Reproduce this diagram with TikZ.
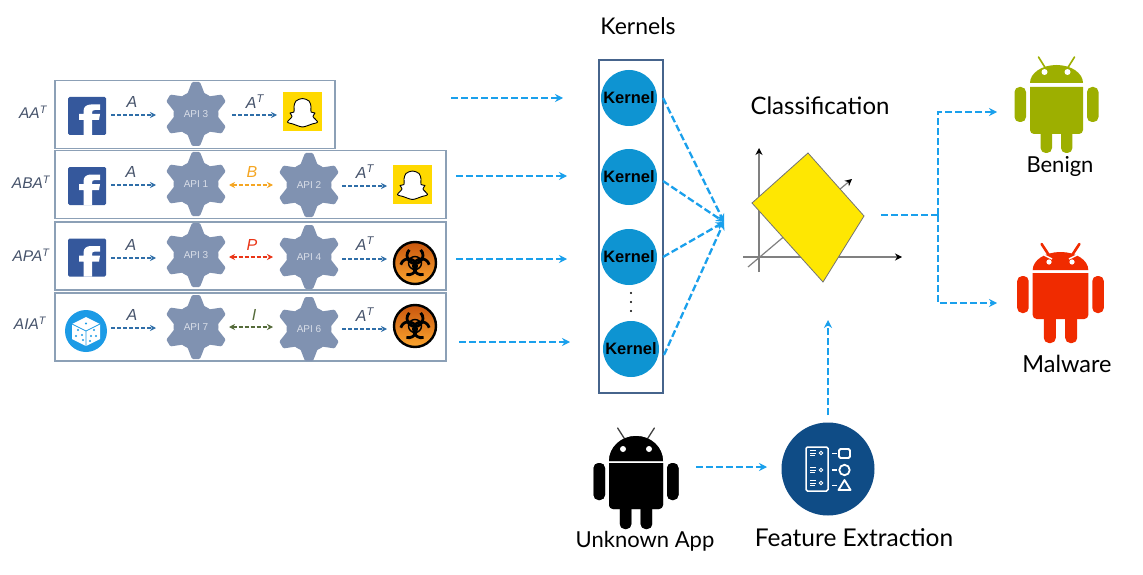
\documentclass[tikz,border=0pt]{standalone}
\usepackage{fontspec}
\setmainfont{Liberation Sans}
\newfontfamily\headfont{Lato}
\usetikzlibrary{arrows.meta}
\definecolor{flowblue}{HTML}{1AA0EC}
\definecolor{smallblue}{HTML}{2F6EA8}
\definecolor{gearcol}{HTML}{8092B1}
\definecolor{boxcol}{HTML}{8CA0B6}
\definecolor{kboxcol}{HTML}{46648C}
\definecolor{slatetext}{HTML}{46536B}
\definecolor{kernelfill}{HTML}{0E94D2}
\definecolor{fbblue}{HTML}{35589C}
\definecolor{snapyellow}{HTML}{FFD900}
\definecolor{bcol}{HTML}{F5A623}
\definecolor{pcol}{HTML}{EA3517}
\definecolor{icol}{HTML}{556B3A}
\definecolor{featblue}{HTML}{0F4C86}
\definecolor{dicecol}{HTML}{1C9BE6}
\definecolor{biotop}{HTML}{C9560E}
\definecolor{biobot}{HTML}{FBA52F}
\tikzset{
  flow/.style={draw=flowblue,line width=2.3pt,dash pattern=on 7pt off 3pt,-{Stealth[length=8pt,width=8pt]}},
  flowplain/.style={draw=flowblue,line width=2.3pt,dash pattern=on 7pt off 3pt},
  tinyflow/.style={draw=#1,line width=1.6pt,dash pattern=on 4pt off 2pt,-{Stealth[length=6pt,width=6pt]}},
  tinyboth/.style={draw=#1,line width=1.6pt,dash pattern=on 4pt off 2pt,{Stealth[length=6pt,width=6pt]}-{Stealth[length=6pt,width=6pt]}},
  rowbox/.style={draw=boxcol,line width=1.5pt,fill=white,minimum width=#1,inner sep=0pt,minimum height=68pt},
  gearbody/.style={circle,fill=gearcol,minimum size=45pt,inner sep=0pt,text=white!70!gearcol,font=\fontsize{10}{11}\selectfont},
  kernelnode/.style={circle,fill=kernelfill,minimum size=56pt,inner sep=0pt,text=black,font=\bfseries\fontsize{16.5}{18}\selectfont},
  rellabel/.style={font=\itshape\fontsize{16}{18}\selectfont,text=#1},
  pathlabel/.style={font=\itshape\fontsize{15.5}{18}\selectfont,text=slatetext},
  headlabel/.style={font=\headfont\fontsize{#1}{26}\selectfont,text=black},
  iconline/.style={draw=white,line width=1.8pt},
}
% gear: name, x, y, label
\newcommand{\gearnode}[4]{%
  \begin{scope}[shift={(#2,#3)}]
    \foreach \a in {90,150,210,270,330,30}{
      \fill[gearcol,rounded corners=1.2pt,rotate=\a] (18,-9.5) -- (32,-4) -- (32,4) -- (18,9.5) -- cycle;
    }
  \end{scope}
  \node[gearbody] (#1) at (#2,#3) {#4};
}
% facebook tile: name, left, top, size
\newcommand{\fbtile}[4]{%
  \node[minimum size=#4pt,inner sep=0pt,fill=fbblue,rounded corners=1.5pt] (#1) at ({#2+#4/2},{#3+#4/2}) {};
  \begin{scope}[shift={(#2,#3)}]
    \fill[white] (15.5,38) -- (15.5,23) -- (11,23) -- (11,17) -- (15.5,17) -- (15.5,14)
      .. controls (15.5,9.5) and (19,7.5) .. (23,7.5) -- (32,7.5) -- (32,13) -- (27,13)
      .. controls (24.5,13) and (24,14) .. (24,16) -- (24,17) -- (32,17) -- (31,23) -- (24,23) -- (24,38) -- cycle;
  \end{scope}
}
% snapchat tile: name, left, top
\newcommand{\snaptile}[3]{%
  \node[minimum size=39pt,inner sep=0pt,fill=snapyellow] (#1) at ({#2+19.5},{#3+19.5}) {};
  \begin{scope}[shift={(#2,#3)}]
    \draw[black,fill=white,line width=.9pt,line join=round] plot[smooth cycle,tension=.55] coordinates
      {(19.5,6) (26,8.5) (28,14) (28,19.5) (32,20.5) (30,24) (34.5,29.5) (29,31.5) (25,33) (19.5,34.5)
       (14,33) (10,31.5) (4.5,29.5) (9,24) (7,20.5) (11,19.5) (11,14) (13,8.5)};
  \end{scope}
}
% biohazard: name, x, y
\newcommand{\biohaz}[3]{%
  \node[circle,draw=black,line width=2.4pt,minimum size=42pt,inner sep=0pt,top color=biotop,bottom color=biobot] (#1) at (#2,#3) {};
  \begin{scope}[shift={(#2,#3)},y=1pt]
    \foreach \a in {90,210,330}{
      \draw[black,line width=2.8pt] ([shift={(\a:7.5)}]{\a+45}:8) arc[start angle=\a+45,end angle=\a+315,radius=8pt];
    }
    \draw[black,line width=1.4pt] (0,0) circle[radius=6.5pt];
  \end{scope}
}
% android: cx, colour, headtop, headbottom, bodytop, bodybottom, legbottom, armtop, armbottom
\newcommand{\droid}[9]{%
  \fill[#2] ({#1-\dhalf},#4) arc[start angle=180,end angle=0,x radius=\dhalf pt,y radius={(#4-#3)*1pt}] -- cycle;
  \draw[#2,line width=\dant pt,line cap=round] ({#1-.42*\dhalf},{#3+3}) -- ({#1-.68*\dhalf},{#3-8});
  \draw[#2,line width=\dant pt,line cap=round] ({#1+.42*\dhalf},{#3+3}) -- ({#1+.68*\dhalf},{#3-8});
  \path[fill=#2] ({#1-\dhalf},#5) -- ({#1+\dhalf},#5) [rounded corners=4pt] -- ({#1+\dhalf},#6) -- ({#1-\dhalf},#6) [sharp corners] -- cycle;
  \fill[#2,rounded corners=5pt] ({#1-\dhalf*.6},{#6-6}) rectangle ({#1-\dhalf*.17},#7);
  \fill[#2,rounded corners=5pt] ({#1+\dhalf*.17},{#6-6}) rectangle ({#1+\dhalf*.6},#7);
  \fill[#2,rounded corners=5pt] ({#1-\dhalf-15.5},#8) rectangle ({#1-\dhalf-4},#9);
  \fill[#2,rounded corners=5pt] ({#1+\dhalf+4},#8) rectangle ({#1+\dhalf+15.5},#9);
}
% link between coordinates: name, x1, x2, y, style
\newcommand{\flowlink}[5]{%
  \coordinate (#1s) at (#2,#4);
  \coordinate (#1e) at (#3,#4);
  \draw[#5] (#1s) -- (#1e);
}
\begin{document}
\begin{tikzpicture}[x=1pt,y=-1pt]
\useasboundingbox (0,0) rectangle (1143,575);
\fill[white] (0,0) rectangle (1143,575);

% row boxes
\node[rowbox=280pt] (row1) at (195,114.5) {};
\node[rowbox=391pt] (row2) at (250.5,184.5) {};
\node[rowbox=391pt] (row3) at (250.5,256) {};
\node[rowbox=391pt] (row4) at (250.5,327) {};

% left labels
\node[pathlabel] (p1) at (33,112) {AA\textsuperscript{T}};
\node[pathlabel] (p2) at (31,182) {ABA\textsuperscript{T}};
\node[pathlabel] (p3) at (31,255) {APA\textsuperscript{T}};
\node[pathlabel] (p4) at (30,323) {AIA\textsuperscript{T}};

% gears
\gearnode{g1a}{196}{114}{API 3}
\gearnode{g2a}{196}{184}{API 1}
\gearnode{g2b}{309}{185}{API 2}
\gearnode{g3a}{196}{255}{API 3}
\gearnode{g3b}{309}{257}{API 4}
\gearnode{g4a}{196}{327}{API 7}
\gearnode{g4b}{309}{329}{API 6}

% tiles
\fbtile{fb1}{68}{97}{38}
\fbtile{fb2}{68}{167}{38}
\fbtile{fb3}{68}{238.5}{38}
\snaptile{sn1}{283}{92.5}
\snaptile{sn2}{393}{165}
\biohaz{bio3}{415}{263}
\biohaz{bio4}{415}{326}

% dice
\node[circle,fill=dicecol,minimum size=42pt,inner sep=0pt] (dice) at (86,331) {};
\begin{scope}[shift={(86,331)}]
  \fill[white,line join=round] (0,-14) -- (14,-7) -- (14,8) -- (0,15) -- (-14,8) -- (-14,-7) -- cycle;
  \draw[dicecol,line width=.8pt] (-14,-7) -- (0,0) -- (14,-7) (0,0) -- (0,15);
  \foreach \p in {(0,-7.5),(-8,-1),(-4,4),(-10,5),(-3,9),(8,-1),(5,5),(10,5),(4,10)}{
    \fill[dicecol] \p circle[radius=1.2pt];
  }
\end{scope}

% small labels
\node[rellabel=slatetext] (la1) at (132,102) {A};
\node[rellabel=slatetext] (lt1) at (255,102) {A\textsuperscript{T}};
\node[rellabel=slatetext] (la2) at (131,172) {A};
\node[rellabel=bcol] (lb) at (252,172) {B};
\node[rellabel=slatetext] (lt2) at (365,172) {A\textsuperscript{T}};
\node[rellabel=slatetext] (la3) at (131,245) {A};
\node[rellabel=pcol] (lp) at (252,245) {P};
\node[rellabel=slatetext] (lt3) at (365,244) {A\textsuperscript{T}};
\node[rellabel=slatetext] (la4) at (132,315) {A};
\node[rellabel=icol] (li) at (254,315) {I};
\node[rellabel=slatetext] (lt4) at (365,315) {A\textsuperscript{T}};

% small arrows
\flowlink{a1}{111}{156}{115}{tinyflow=smallblue}
\flowlink{a2}{232}{277}{115}{tinyflow=smallblue}
\flowlink{b1}{111}{156}{185}{tinyflow=smallblue}
\flowlink{b2}{229}{273}{185}{tinyboth=bcol}
\flowlink{b3}{342}{387}{186}{tinyflow=smallblue}
\flowlink{c1}{111}{156}{258}{tinyflow=smallblue}
\flowlink{c2}{229}{273}{257}{tinyboth=pcol}
\flowlink{c3}{342}{387}{259}{tinyflow=smallblue}
\flowlink{d1}{111}{156}{328}{tinyflow=smallblue}
\flowlink{d2}{229}{273}{327}{tinyboth=icol}
\flowlink{d3}{342}{387}{329}{tinyflow=smallblue}

% long arrows
\flowlink{l1}{451}{563}{98}{flow}
\flowlink{l2}{456}{567}{176}{flow}
\flowlink{l3}{456}{567}{259}{flow}
\flowlink{l4}{459}{570}{342}{flow}

% kernels
\node[headlabel=23] (kt) at (638,26) {Kernels};
\node[draw=kboxcol,line width=1.8pt,minimum width=64pt,minimum height=333pt,inner sep=0pt] (kbox) at (631,226.5) {};
\node[kernelnode] (k1) at (629,98) {Kernel};
\node[kernelnode] (k2) at (629,177) {Kernel};
\node[kernelnode] (k3) at (629,257) {Kernel};
\node[kernelnode] (k4) at (631,349) {Kernel};
\node[circle,fill=black,inner sep=0pt,minimum size=2.4pt] (dot1) at (631,293) {};
\node[circle,fill=black,inner sep=0pt,minimum size=2.4pt] (dot2) at (631,302) {};
\node[circle,fill=black,inner sep=0pt,minimum size=2.4pt] (dot3) at (631,311) {};

\coordinate (hub) at (724,222);
\coordinate (ks1) at (663,98);
\coordinate (ks2) at (663,181);
\coordinate (ks3) at (663,257);
\coordinate (ks4) at (664,355);
\draw[flow] (ks1) -- (hub);
\draw[flow] (ks2) -- (hub);
\draw[flow] (ks3) -- (hub);
\draw[flow] (ks4) -- (hub);

% classification
\node[headlabel=24] (ct) at (820,106) {Classification};
\draw[black!50,line width=1.2pt,-{Stealth[length=7pt,width=7pt,color=black]}] (759,272) -- (759,148);
\draw[black!50,line width=1.2pt,-{Stealth[length=7pt,width=7pt,color=black]}] (743,257) -- (902,257);
\draw[black!50,line width=1.2pt,-{Stealth[length=7pt,width=7pt,color=black]}] (748,267) -- (852,179);
\draw[black!55,line width=.8pt,fill=yellow!90!orange] (808,153) -- (864,216) -- (823,282) -- (752,203) -- cycle;
\coordinate (clsin) at (828,320);
\coordinate (clsout) at (881,215);

% output tree
\coordinate (fork) at (938,215);
\coordinate (tup) at (938,112);
\coordinate (tdn) at (938,303);
\coordinate (benignin) at (997,112);
\coordinate (malin) at (997,303);
\draw[flowplain] (clsout) -- (fork);
\draw[flow] (fork) -- (tup) -- (benignin);
\draw[flow] (fork) -- (tdn) -- (malin);

% androids
\def\dhalf{26.5}\def\dant{1.6}
\definecolor{droidgreen}{HTML}{9DAF00}
\droid{1056.5}{droidgreen}{65}{83}{87}{134}{153}{87}{122}
\fill[white] (1044.5,72) circle[radius=3pt] (1067.5,72) circle[radius=3pt];
\node[headlabel=22] (bl) at (1060,166) {Benign};

\def\dhalf{27.8}\def\dant{2.6}
\definecolor{droidred}{HTML}{F02B00}
\droid{1060.5}{droidred}{252}{270}{273}{319}{343}{276}{313}
\fill[white] (1049,262) circle[radius=2.6pt] (1072,262) circle[radius=2.6pt];
\draw[white,line width=1.4pt] (1044,255) -- (1052,259) (1077,255) -- (1069,259);
\node[headlabel=23.5] (ml) at (1067,364) {Malware};

\def\dhalf{27}\def\dant{1.3}
\droid{636}{black!75}{436}{461}{463}{509}{529}{463}{500}
\fill[black] (609,461) arc[start angle=180,end angle=0,x radius=27pt,y radius=25pt] -- cycle;
\fill[black] (609,463) -- (663,463) [rounded corners=4pt] -- (663,509) -- (609,509) [sharp corners] -- cycle;
\fill[black,rounded corners=5pt] (619.8,503) rectangle (631.4,529) (640.6,503) rectangle (652.2,529);
\fill[black,rounded corners=5pt] (593.5,463) rectangle (605,500) (667,463) rectangle (678.5,500);
\fill[white] (623,449) circle[radius=3pt] (649,449) circle[radius=3pt];
\node[headlabel=22] (ul) at (645,541) {Unknown App};

% feature extraction
\node[circle,fill=featblue,minimum size=93pt,inner sep=0pt] (fe) at (828,469) {};
\node[headlabel=24.5] (fl) at (854,538) {Feature Extraction};
\draw[iconline,line width=1.5pt,rounded corners=1.5pt] (806,447) rectangle (828,491);
\draw[iconline,rounded corners=1.5pt] (839,449) rectangle (850,458);
\draw[iconline] (844.5,470) circle[radius=5.2pt];
\draw[iconline,line join=round] (844.5,480) -- (850.5,490) -- (838.5,490) -- cycle;
\draw[iconline,line width=1.3pt] (832,453.5) -- (837,453.5) (832,470) -- (837,470) (832,485.5) -- (837,485.5);
\foreach \yy in {452,469,482}{
  \draw[white,line width=.9pt] (810,{\yy-1.5}) -- (816,{\yy-1.5}) (810,{\yy+1}) -- (816,{\yy+1}) (810,{\yy+3.5}) -- (815,{\yy+3.5});
  \draw[white,line width=.9pt] (821,{\yy+1}) circle[radius=1.8pt];
}
\coordinate (appout) at (696,467);
\coordinate (fein) at (767,467);
\draw[flow] (appout) -- (fein);
\coordinate (feout) at (828,415);
\draw[flow] (feout) -- (clsin);
\end{tikzpicture}
\end{document}
